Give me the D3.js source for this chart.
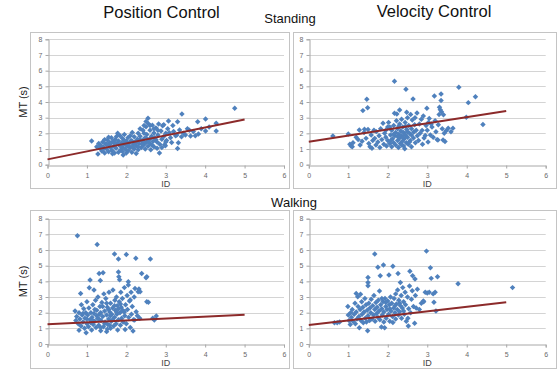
<!DOCTYPE html>
<html><head><meta charset="utf-8">
<script src="https://cdn.jsdelivr.net/npm/d3@7"></script>
<style>body{margin:0;background:#fff}svg{display:block;font-family:"Liberation Sans",Arial,sans-serif}</style>
</head><body><svg id="c" width="558" height="372"></svg>
<script>
// ---- data ----
const columnTitles = ["Position Control", "Velocity Control"];
const rowTitles = ["Standing", "Walking"];
const xTicks = [0, 1, 2, 3, 4, 5, 6];
const yTicks = [0, 1, 2, 3, 4, 5, 6, 7, 8];
const xLabel = "ID";
const yLabel = "MT (s)";
// [ID, MT]
const posStanding = [[1.12,1.51],[1.28,0.68],[1.3,1.35],[1.33,1.05],[1.35,1.22],[1.38,0.88],[1.4,1.45],[1.42,1.12],[1.45,0.75],[1.47,1.32],[1.5,1.0],[1.52,1.58],[1.55,1.25],[1.55,0.82],[1.58,1.42],[1.6,1.1],[1.62,1.72],[1.64,0.9],[1.66,1.5],[1.68,1.2],[1.7,0.75],[1.72,1.62],[1.74,1.05],[1.76,1.35],[1.78,2.0],[1.8,0.8],[1.8,1.52],[1.82,1.25],[1.84,1.85],[1.86,0.95],[1.88,1.4],[1.9,1.12],[1.9,1.68],[1.92,0.62],[1.94,1.3],[1.95,1.92],[1.97,1.0],[2.0,1.5],[2.0,0.75],[2.02,1.2],[2.04,1.72],[2.05,0.9],[2.08,1.4],[2.1,1.1],[2.12,1.55],[2.14,0.8],[2.15,2.05],[2.18,1.3],[2.2,1.0],[2.2,1.78],[2.22,1.45],[2.25,0.72],[2.25,1.2],[2.28,1.62],[2.3,0.95],[2.3,2.0],[2.32,1.35],[2.35,1.82],[2.38,1.1],[2.4,1.5],[2.42,2.2],[2.44,1.25],[2.46,1.68],[2.48,1.0],[2.5,2.42],[2.5,1.4],[2.52,1.92],[2.55,2.96],[2.55,1.18],[2.56,2.62],[2.58,1.6],[2.6,2.2],[2.6,1.35],[2.62,0.95],[2.64,1.82],[2.66,2.52],[2.68,1.5],[2.7,2.02],[2.7,1.15],[2.72,1.72],[2.75,2.35],[2.78,1.45],[2.8,1.9],[2.82,2.6],[2.84,0.74],[2.85,1.3],[2.88,2.15],[2.9,1.62],[2.92,2.48],[2.95,1.8],[2.97,1.28],[2.99,1.21],[3.0,2.0],[3.02,1.55],[3.05,2.3],[3.07,2.79],[3.09,2.04],[3.12,1.72],[3.15,1.42],[3.2,2.12],[3.25,1.85],[3.3,2.74],[3.3,1.04],[3.32,1.4],[3.35,2.22],[3.4,1.79],[3.41,3.23],[3.45,2.0],[3.5,1.89],[3.55,2.3],[3.63,1.83],[3.7,2.12],[3.81,2.74],[3.83,1.96],[3.9,2.3],[4.01,2.91],[4.01,2.15],[4.1,2.4],[4.28,2.64],[4.28,2.15],[4.75,3.6],[1.45,1.6],[1.6,1.35],[1.7,1.4],[1.75,1.8],[1.85,1.2],[1.95,1.55],[2.05,1.25],[2.1,1.85],[2.15,1.5],[2.25,1.4],[2.35,1.6],[2.4,1.3],[2.45,2.0],[2.5,1.7],[2.55,1.5],[2.6,2.5],[2.65,1.25],[2.7,2.3],[2.75,1.6],[2.8,2.2],[2.5,2.75],[2.45,2.5],[2.35,2.3],[1.55,1.75],[1.65,0.7],[1.9,0.85],[2.0,1.3],[2.15,1.15],[2.3,1.15],[2.45,1.45],[2.62,1.7],[2.78,1.05],[2.9,1.1],[2.95,2.55],[3.0,1.45],[3.18,2.5],[3.28,1.9],[3.6,2.2],[3.75,1.85],[1.4,0.95],[1.5,1.3],[1.25,1.15]];
const velStanding = [[0.61,1.83],[1.0,1.96],[1.04,1.3],[1.07,1.2],[1.1,1.15],[1.12,1.4],[1.2,1.75],[1.25,1.6],[1.28,2.21],[1.3,1.25],[1.35,1.5],[1.37,3.45],[1.4,2.05],[1.41,2.26],[1.45,1.68],[1.47,4.17],[1.49,3.64],[1.5,2.25],[1.52,1.35],[1.55,1.15],[1.58,1.9],[1.6,1.05],[1.62,1.55],[1.65,2.2],[1.67,1.68],[1.7,1.25],[1.71,2.11],[1.75,1.45],[1.78,1.85],[1.8,1.1],[1.82,2.3],[1.85,1.6],[1.88,2.64],[1.9,1.3],[1.92,2.0],[1.95,1.75],[1.97,1.2],[2.0,2.4],[2.0,1.55],[2.02,2.7],[2.05,1.35],[2.07,1.9],[2.1,1.15],[2.1,2.2],[2.12,1.65],[2.15,2.5],[2.15,1.4],[2.17,3.28],[2.17,5.32],[2.18,1.85],[2.2,1.25],[2.2,2.05],[2.22,2.8],[2.23,3.23],[2.25,1.55],[2.25,2.3],[2.27,1.1],[2.28,1.95],[2.3,3.49],[2.3,1.7],[2.3,2.6],[2.32,1.35],[2.33,2.15],[2.35,1.85],[2.35,2.9],[2.37,1.5],[2.38,2.4],[2.4,1.2],[2.4,2.05],[2.42,1.65],[2.43,1.02],[2.44,2.7],[2.45,1.9],[2.46,4.81],[2.47,1.4],[2.48,3.35],[2.48,2.25],[2.5,1.75],[2.5,3.0],[2.52,1.3],[2.53,2.5],[2.55,2.0],[2.57,1.55],[2.58,3.2],[2.6,2.3],[2.6,1.15],[2.62,2.85],[2.64,4.19],[2.65,1.7],[2.66,2.08],[2.68,2.55],[2.69,3.0],[2.7,1.4],[2.72,2.2],[2.74,3.3],[2.75,1.85],[2.78,1.55],[2.8,2.6],[2.82,2.0],[2.85,2.9],[2.87,2.19],[2.88,1.3],[2.9,3.1],[2.92,1.7],[2.95,1.87],[2.97,2.5],[2.99,3.6],[3.0,2.2],[3.02,1.45],[3.03,2.7],[3.05,2.95],[3.08,1.9],[3.1,2.6],[3.12,2.4],[3.15,1.75],[3.18,4.38],[3.2,2.8],[3.22,2.1],[3.25,1.6],[3.27,1.57],[3.28,2.55],[3.3,3.2],[3.31,3.66],[3.33,3.5],[3.35,4.51],[3.35,4.09],[3.36,3.38],[3.38,2.3],[3.4,1.57],[3.41,3.18],[3.43,2.0],[3.45,1.48],[3.48,2.17],[3.53,2.32],[3.6,2.1],[3.65,2.32],[3.8,4.94],[3.99,3.02],[4.04,3.96],[4.22,4.33],[4.41,2.57],[1.95,2.2],[2.05,2.4],[2.25,1.8],[2.35,1.25],[2.45,2.45],[2.55,1.45],[2.15,1.95],[2.38,1.75],[2.5,2.1],[2.6,1.9],[2.08,1.55],[2.28,2.45]];
const posWalking = [[0.7,2.1],[0.72,1.5],[0.74,1.75],[0.76,6.91],[0.78,1.3],[0.8,0.87],[0.8,2.0],[0.82,1.6],[0.84,3.23],[0.85,1.15],[0.86,2.5],[0.88,1.85],[0.9,1.4],[0.92,2.25],[0.94,1.0],[0.95,1.65],[0.97,2.0],[0.98,0.72],[1.0,1.3],[1.0,2.7],[1.02,1.85],[1.04,1.1],[1.05,2.3],[1.06,3.59],[1.08,4.08],[1.08,1.55],[1.1,2.0],[1.12,0.9],[1.13,1.7],[1.15,2.5],[1.16,1.25],[1.18,3.45],[1.18,1.95],[1.2,1.45],[1.22,2.8],[1.23,1.05],[1.25,2.15],[1.26,6.36],[1.27,1.65],[1.28,3.0],[1.3,1.2],[1.31,4.5],[1.32,1.9],[1.33,2.4],[1.34,4.06],[1.35,0.85],[1.36,1.5],[1.38,2.65],[1.4,1.75],[1.41,4.55],[1.42,1.1],[1.43,3.2],[1.45,2.1],[1.46,1.4],[1.48,2.9],[1.5,0.79],[1.5,1.85],[1.52,2.35],[1.53,1.25],[1.55,1.6],[1.56,3.3],[1.58,2.05],[1.6,1.0],[1.6,2.6],[1.62,1.45],[1.63,1.9],[1.65,2.3],[1.66,3.45],[1.68,1.15],[1.7,1.7],[1.7,5.74],[1.71,2.8],[1.72,2.15],[1.74,1.3],[1.75,3.0],[1.76,1.9],[1.77,2.45],[1.78,0.9],[1.8,4.6],[1.8,5.42],[1.8,1.55],[1.81,4.3],[1.82,2.7],[1.83,4.1],[1.84,2.0],[1.85,1.2],[1.86,3.3],[1.87,2.35],[1.88,1.65],[1.9,2.9],[1.92,1.4],[1.93,2.1],[1.95,3.6],[1.96,1.8],[1.97,0.93],[1.98,2.5],[2.0,5.72],[2.0,1.3],[2.02,3.1],[2.03,2.2],[2.05,3.97],[2.05,3.76],[2.06,1.7],[2.08,2.75],[2.1,1.05],[2.1,2.81],[2.12,3.3],[2.13,1.9],[2.15,2.4],[2.17,0.83],[2.18,1.55],[2.2,3.0],[2.21,1.53],[2.22,3.55],[2.24,5.47],[2.25,2.06],[2.28,1.8],[2.3,3.34],[2.32,3.51],[2.34,1.64],[2.35,3.34],[2.39,4.5],[2.5,4.23],[2.52,4.3],[2.52,2.7],[2.56,2.66],[2.61,5.42],[2.67,1.64],[2.71,1.53],[2.76,1.79],[1.0,1.6],[1.1,1.35],[1.2,2.2],[1.25,1.8],[1.35,2.0],[1.45,1.3],[1.55,2.2],[1.6,1.8],[1.65,1.55],[1.7,2.45],[1.75,2.05],[1.8,2.25],[1.85,2.55],[1.9,2.15],[1.4,2.4],[1.3,1.6],[0.9,1.95],[1.15,1.5],[1.5,2.6],[1.95,2.05],[1.35,1.05],[1.52,0.95],[1.58,1.2]];
const velWalking = [[0.65,1.35],[0.72,1.35],[0.78,1.4],[0.99,2.4],[1.0,1.85],[1.02,1.5],[1.05,1.25],[1.06,2.0],[1.08,1.7],[1.1,2.2],[1.12,1.45],[1.15,1.9],[1.17,2.6],[1.18,1.3],[1.2,3.23],[1.2,2.05],[1.22,1.6],[1.24,3.02],[1.25,2.4],[1.27,1.75],[1.28,1.04],[1.3,2.2],[1.31,3.17],[1.32,1.5],[1.34,2.7],[1.35,1.9],[1.37,2.35],[1.38,1.35],[1.4,2.05],[1.42,2.9],[1.43,1.65],[1.45,2.5],[1.46,1.4],[1.48,2.15],[1.49,0.85],[1.5,4.25],[1.5,3.93],[1.5,3.72],[1.5,1.8],[1.52,2.6],[1.54,1.5],[1.55,2.3],[1.57,2.0],[1.58,2.85],[1.6,1.6],[1.62,2.45],[1.64,1.85],[1.65,3.1],[1.67,5.74],[1.67,2.2],[1.68,1.45],[1.7,2.65],[1.72,1.95],[1.73,2.35],[1.75,4.9],[1.75,1.7],[1.76,2.8],[1.78,2.1],[1.79,3.38],[1.8,1.55],[1.81,4.36],[1.82,2.5],[1.84,1.08],[1.85,2.25],[1.86,1.85],[1.88,2.7],[1.89,5.05],[1.9,1.4],[1.9,2.05],[1.92,1.04],[1.93,2.9],[1.95,2.4],[1.96,1.65],[1.98,2.2],[2.0,2.75],[2.02,1.9],[2.03,4.4],[2.04,2.5],[2.05,1.45],[2.07,3.0],[2.08,2.1],[2.1,2.6],[2.12,1.75],[2.13,4.97],[2.13,1.38],[2.15,2.3],[2.16,2.9],[2.18,2.0],[2.2,3.2],[2.2,1.6],[2.22,2.55],[2.24,2.2],[2.25,3.45],[2.26,4.5],[2.27,1.85],[2.28,2.8],[2.3,2.06],[2.32,3.93],[2.32,2.45],[2.34,3.1],[2.35,1.65],[2.37,2.3],[2.38,3.6],[2.4,2.7],[2.42,1.9],[2.44,3.3],[2.45,2.5],[2.47,1.45],[2.5,3.0],[2.51,1.64],[2.52,1.15],[2.53,2.25],[2.55,3.7],[2.56,4.65],[2.58,2.0],[2.6,2.85],[2.62,3.4],[2.63,4.36],[2.65,2.4],[2.68,1.32],[2.69,4.15],[2.7,3.1],[2.72,2.3],[2.75,3.5],[2.8,2.2],[2.85,2.6],[2.9,2.75],[2.91,2.7],[2.95,3.3],[2.98,5.93],[3.0,3.25],[3.05,3.3],[3.08,4.87],[3.1,4.19],[3.15,3.2],[3.17,2.66],[3.2,3.3],[3.22,2.11],[3.26,4.3],[3.78,3.84],[5.16,3.6],[2.3,2.6],[2.18,2.45],[2.05,2.25],[1.95,2.65],[2.4,2.1],[1.85,2.9]];
const trendIntercepts = [0.34, 1.47, 1.26, 1.21];
const trendSlopes = [0.51, 0.39, 0.12, 0.29];
const trendRange = [0, 5];

// ---- layout ----
const svg = d3.select("#c");
const panels = [
  {data: posStanding, box: [30, 32, 289, 188], px: [47.5, 284], py: [164.7, 39.3], yLab: true},
  {data: velStanding, box: [293, 32, 556, 188], px: [308.8, 545.7], py: [164.7, 39.3], yLab: false},
  {data: posWalking, box: [30, 210, 289, 368], px: [47.5, 284], py: [344, 218.7], yLab: true},
  {data: velWalking, box: [293, 210, 556, 368], px: [308.8, 545.7], py: [344, 218.7], yLab: false}
];
const diamond = d3.symbol().type(d3.symbolSquare).size(15)();

panels.forEach((p, i) => {
  const g = svg.append("g");
  g.append("rect").attr("x", p.box[0] + 0.5).attr("y", p.box[1] + 0.5)
    .attr("width", p.box[2] - p.box[0]).attr("height", p.box[3] - p.box[1])
    .attr("fill", "#fff").attr("stroke", "#c4c4c4");
  const x = d3.scaleLinear().domain([0, 6]).range(p.px);
  const y = d3.scaleLinear().domain([0, 8]).range(p.py);
  g.selectAll(".grid").data(yTicks.slice(1)).join("line")
    .attr("x1", x(0)).attr("x2", x(6))
    .attr("y1", d => Math.round(y(d)) + 0.5).attr("y2", d => Math.round(y(d)) + 0.5)
    .attr("stroke", "#d4d4d4");
  const xa = g.append("g").attr("transform", `translate(0,${Math.round(y(0)) + 0.5})`)
    .call(d3.axisBottom(x).tickValues(xTicks).tickSize(3).tickPadding(5).tickFormat(d3.format("d")));
  const ya = g.append("g").attr("transform", `translate(${Math.round(x(0)) + 0.5},0)`)
    .call(d3.axisLeft(y).tickValues(yTicks).tickSize(3).tickPadding(3).tickFormat(d3.format("d")));
  [xa, ya].forEach(a => {
    a.select(".domain").attr("stroke", "#a8a8a8");
    a.selectAll(".tick line").attr("stroke", "#a8a8a8");
    a.selectAll("text").attr("fill", "#6a6a6a").attr("font-size", 7);
  });
  g.append("text").attr("x", (p.px[0] + p.px[1]) / 2).attr("y", p.py[0] + 22)
    .attr("text-anchor", "middle").attr("font-size", 9).attr("fill", "#444").text(xLabel);
  if (p.yLab) {
    g.append("text").attr("transform", `translate(27,${(p.py[0] + p.py[1]) / 2}) rotate(-90)`)
      .attr("text-anchor", "middle").attr("font-size", 11).attr("fill", "#222").text(yLabel);
  }
  g.selectAll(".pt").data(p.data).join("path")
    .attr("d", diamond)
    .attr("transform", d => `translate(${x(d[0])},${y(d[1])}) rotate(45)`)
    .attr("fill", "#4f81bd");
  const line = d3.line().x(d => x(d)).y(d => y(trendIntercepts[i] + trendSlopes[i] * d));
  g.append("path").datum(trendRange).attr("d", line)
    .attr("fill", "none").attr("stroke", "#8c2a2a").attr("stroke-width", 2);
});

svg.append("text").attr("x", 161.5).attr("y", 18).attr("text-anchor", "middle")
  .attr("font-size", 16.5).attr("fill", "#111").text(columnTitles[0]);
svg.append("text").attr("x", 434).attr("y", 17).attr("text-anchor", "middle")
  .attr("font-size", 16.5).attr("fill", "#111").text(columnTitles[1]);
svg.append("text").attr("x", 290).attr("y", 23).attr("text-anchor", "middle")
  .attr("font-size", 13).attr("fill", "#111").text(rowTitles[0]);
svg.append("text").attr("x", 294).attr("y", 207).attr("text-anchor", "middle")
  .attr("font-size", 13).attr("fill", "#111").text(rowTitles[1]);
</script></body></html>
